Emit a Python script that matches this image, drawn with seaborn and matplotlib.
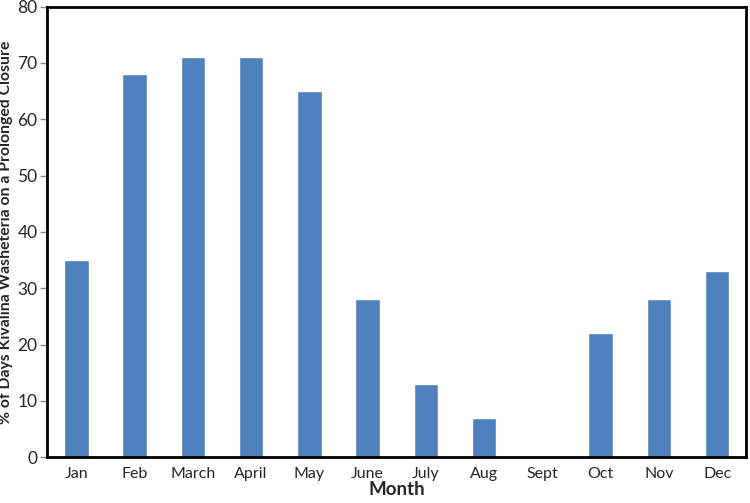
import numpy as np
import pandas as pd
import matplotlib
matplotlib.use('Agg')
import matplotlib.pyplot as plt
import seaborn as sns

months = ['Jan', 'Feb', 'March', 'April', 'May', 'June', 'July', 'Aug', 'Sept', 'Oct', 'Nov', 'Dec']
closure_pct = [35, 68, 71, 71, 65, 28, 13, 7, 0, 22, 28, 33]

df = pd.DataFrame({'month': months, 'pct': closure_pct})

sns.set_style('white')
plt.rcParams['font.family'] = ['Lato', 'DejaVu Sans']

fig = plt.figure(figsize=(7.5, 5.03), dpi=100)
ax = fig.add_axes([0.063, 0.091, 0.932, 0.896])

sns.barplot(data=df, x='month', y='pct', color='#4F81BD', saturation=1, width=0.42, ax=ax)

ax.set_ylim(0, 80)
ax.set_xlim(-0.5, len(months) - 0.5)
ax.set_yticks(range(0, 81, 10))
ax.set_xticks(np.arange(-0.5, len(months), 1), minor=True)
ax.tick_params(axis='x', which='major', length=0, pad=7, labelsize=11.5)
ax.tick_params(axis='x', which='minor', length=5, width=1, color='#888888', direction='out')
ax.tick_params(axis='y', length=5, width=1, color='#888888', direction='out', labelsize=12.5, left=True, pad=2)

for s in ax.spines.values():
    s.set_linewidth(2)
    s.set_color('black')

ax.set_xlabel('Month', fontsize=13.5, fontweight='bold', labelpad=0)
ax.set_ylabel('% of Days Kivalina Washeteria on a Prolonged Closure', fontsize=11.3, fontweight='bold', labelpad=3)

fig.savefig('out.png', dpi=100)
